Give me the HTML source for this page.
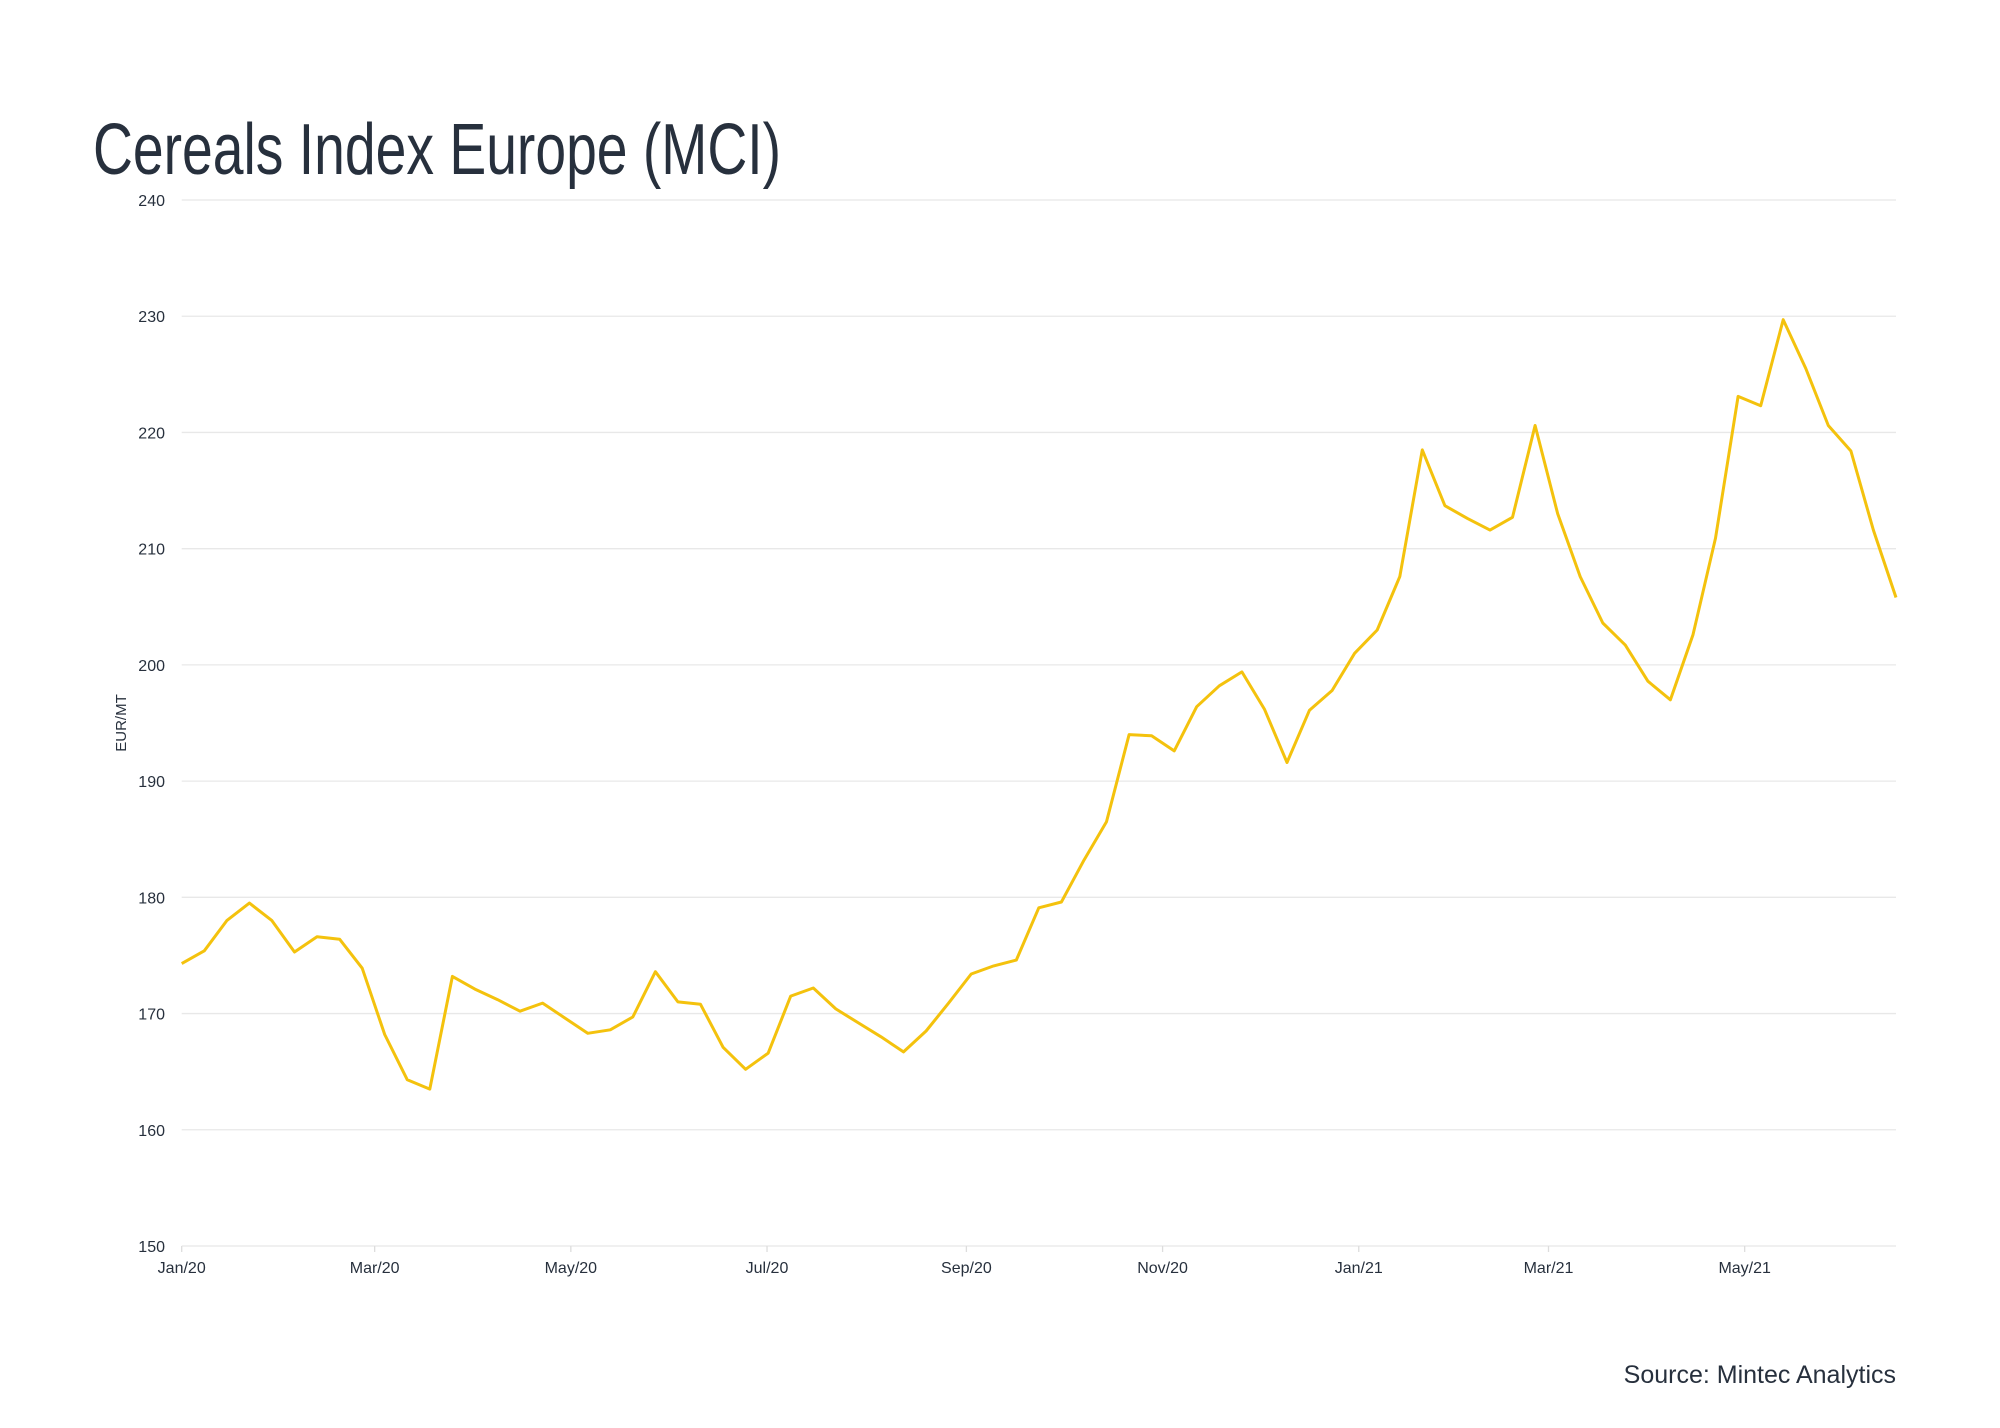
<!DOCTYPE html>
<html><head><meta charset="utf-8"><style>
body{margin:0;background:#fff;}
svg{display:block;font-family:"Liberation Sans",sans-serif;}
</style></head><body>
<svg id="chart" width="2000" height="1428" viewBox="0 0 2000 1428">
<text x="93" y="174" font-size="72" fill="#27303d" textLength="688" lengthAdjust="spacingAndGlyphs">Cereals Index Europe (MCI)</text>
<text transform="translate(126,723) rotate(-90)" text-anchor="middle" font-size="15" fill="#27303d">EUR/MT</text>
<g id="grid"></g>
<g id="yticks"></g>
<g id="xticks"></g>
<path id="line" fill="none" stroke="#f4c20d" stroke-width="3" stroke-linejoin="round"></path>
<text x="1896" y="1383" text-anchor="end" font-size="25" fill="#27303d">Source: Mintec Analytics</text>
</svg>
<script>
const yTicks=[150,160,170,180,190,200,210,220,230,240];
const xTickLabels=["Jan/20","Mar/20","May/20","Jul/20","Sep/20","Nov/20","Jan/21","Mar/21","May/21"];
const xTickDays=[0,60,121,182,244,305,366,425,486];
const values=[174.3,175.4,178.0,179.5,178.0,175.3,176.6,176.4,173.9,168.2,164.3,163.5,173.2,172.1,171.2,170.2,170.9,169.6,168.3,168.6,169.7,173.6,171.0,170.8,167.1,165.2,166.6,171.5,172.2,170.4,169.2,168.0,166.7,168.5,170.9,173.4,174.1,174.6,179.1,179.6,183.2,186.5,194.0,193.9,192.6,196.4,198.2,199.4,196.2,191.6,196.1,197.8,201.0,203.0,207.6,218.5,213.7,212.6,211.6,212.7,220.6,213.0,207.6,203.6,201.7,198.6,197.0,202.6,210.9,223.1,222.3,229.7,225.5,220.6,218.4,211.6,205.8];
const NS="http://www.w3.org/2000/svg";
const X0=181.7,X1=1896,pxPerDay=3.216;
function y(v){return 1246-(v-150)*(1246-200)/90;}
function xIdx(i){return X0+i*(X1-X0)/(values.length-1);}
function xDay(d){return X0+d*pxPerDay;}
const grid=document.getElementById('grid'),yt=document.getElementById('yticks'),xt=document.getElementById('xticks');
yTicks.forEach(v=>{
 const l=document.createElementNS(NS,'line');
 
 
 l.setAttribute('x1',X0);l.setAttribute('x2',X1);l.setAttribute('y1',y(v));l.setAttribute('y2',y(v));
 l.setAttribute('stroke','#e8e8e8');l.setAttribute('stroke-width','1.3');
 grid.appendChild(l);
 const t=document.createElementNS(NS,'text');
 
 
 t.setAttribute('x',165);t.setAttribute('y',y(v)+6);t.setAttribute('text-anchor','end');
 t.setAttribute('font-size','16');t.setAttribute('fill','#27303d');t.textContent=v;
 yt.appendChild(t);
});
xTickLabels.forEach((lab,i)=>{
 const x=xDay(xTickDays[i]);
 const l=document.createElementNS(NS,'line');
 
 
 l.setAttribute('x1',x);l.setAttribute('x2',x);l.setAttribute('y1',1246);l.setAttribute('y2',1252);
 l.setAttribute('stroke','#dddddd');l.setAttribute('stroke-width','1.3');
 xt.appendChild(l);
 const t=document.createElementNS(NS,'text');
 
 
 t.setAttribute('x',x);t.setAttribute('y',1273);t.setAttribute('text-anchor','middle');
 t.setAttribute('font-size','16');t.setAttribute('fill','#27303d');t.textContent=lab;
 xt.appendChild(t);
});
document.getElementById('line').setAttribute('d',values.map((v,i)=>(i?'L':'M')+xIdx(i).toFixed(1)+','+y(v).toFixed(1)).join(''));
</script>
</body></html>
